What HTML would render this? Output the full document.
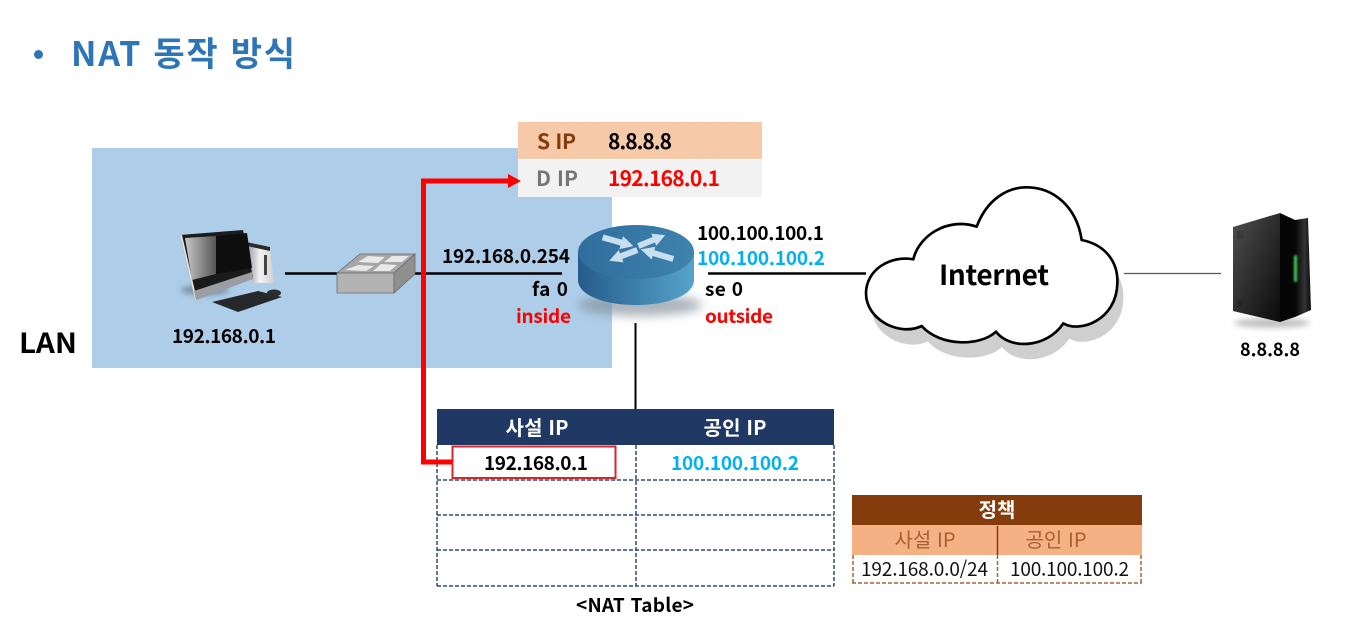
<!DOCTYPE html>
<html lang="ko">
<head>
<meta charset="utf-8">
<style>
html,body{margin:0;padding:0;background:#fff;width:1372px;height:627px;overflow:hidden}
svg{display:block}
text{font-family:"Liberation Sans","Noto Sans CJK KR",sans-serif}
.k{font-family:"Noto Sans CJK KR","Liberation Sans",sans-serif}
.b{font-weight:700}
</style>
</head>
<body>
<svg width="1372" height="627" viewBox="0 0 1372 627" xmlns="http://www.w3.org/2000/svg">
<defs>
<linearGradient id="rs" x1="0" x2="1" y1="0" y2="0"><stop offset="0" stop-color="#255c8c"/><stop offset="1" stop-color="#56a3cb"/></linearGradient>
<linearGradient id="rt" x1="0" x2="1" y1="0" y2="0"><stop offset="0" stop-color="#2f6d9d"/><stop offset="1" stop-color="#3f83ae"/></linearGradient>
<linearGradient id="scr" x1="0" x2="1" y1="0" y2="0"><stop offset="0" stop-color="#c8c8c8"/><stop offset="1" stop-color="#555"/></linearGradient>
<linearGradient id="srv" x1="0" x2="1" y1="0" y2="1"><stop offset="0" stop-color="#4f4f4f"/><stop offset="1" stop-color="#0a0a0a"/></linearGradient>
<linearGradient id="srp" x1="0" x2="1" y1="0" y2="0"><stop offset="0" stop-color="#050505"/><stop offset=".6" stop-color="#333"/><stop offset="1" stop-color="#0c0c0c"/></linearGradient>
<linearGradient id="tower" x1="0" x2="1" y1="0" y2="0"><stop offset="0" stop-color="#8d9299"/><stop offset=".5" stop-color="#f2f2f2"/><stop offset="1" stop-color="#d0d0d0"/></linearGradient>
<filter id="bl" x="-30%" y="-80%" width="160%" height="260%"><feGaussianBlur stdDeviation="5"/></filter>
<filter id="bs" x="-20%" y="-80%" width="140%" height="260%"><feGaussianBlur stdDeviation="3"/></filter>
<filter id="bg" x="-200%" y="-30%" width="500%" height="160%"><feGaussianBlur stdDeviation="1"/></filter>
</defs>

<!-- title -->
<circle cx="38.500" cy="54.500" r="4.500" fill="#2e75b6"/>
<text class="k b" x="71" y="66" font-size="34" fill="#2e75b6" textLength="224" lengthAdjust="spacing">NAT 동작 방식</text>

<!-- LAN area -->
<rect x="92" y="148" width="520" height="220" fill="#aecde9"/>
<text class="k b" x="19" y="353" font-size="28" fill="#000" textLength="58" lengthAdjust="spacingAndGlyphs">LAN</text>

<!-- packet header -->
<rect x="518" y="122" width="244" height="75" fill="#fff"/>
<rect x="518" y="122" width="244" height="37" fill="#f6c9a9"/>
<rect x="518" y="160" width="244" height="37" fill="#f2f2f2"/>
<text class="k b" x="537" y="149" font-size="21" fill="#843c0c" textLength="39" lengthAdjust="spacing">S IP</text>
<text class="k b" x="608" y="149" font-size="21" fill="#000" textLength="64" lengthAdjust="spacing">8.8.8.8</text>
<text class="k b" x="536" y="186" font-size="21" fill="#767676" textLength="42" lengthAdjust="spacing">D IP</text>
<text class="k b" x="608" y="186" font-size="21" fill="#ff0000" textLength="112" lengthAdjust="spacing">192.168.0.1</text>

<!-- lines -->
<g stroke="#000" stroke-width="2.500" fill="none">
<line x1="285" y1="273.500" x2="340" y2="273.500"/>
<line x1="412" y1="273.500" x2="562" y2="273.500"/>
<line x1="708" y1="273.500" x2="866" y2="273.500"/>
<line x1="635.500" y1="323" x2="635.500" y2="409" stroke-width="2"/>
</g>
<line x1="1124" y1="273.500" x2="1221" y2="273.500" stroke="#555" stroke-width="1.200"/>

<!-- PC -->
<g>
<ellipse cx="205" cy="290" rx="24" ry="5" fill="#5f7286" opacity=".7" filter="url(#bs)"/>
<polygon points="246,242 270,248 274,283 253,283" fill="url(#tower)"/>
<polygon points="246,242 270,247 270,251 247,246" fill="#2b2b2b"/>
<rect x="264" y="255" width="3" height="20" fill="#444"/>
<polygon points="180,235 243,230 253,277 195,300" fill="#1b1b1b"/>
<polygon points="180,235 182,235 197,300 195,300" fill="#e2e2e2"/>
<polygon points="194,291 252,272 253,279 196,300" fill="#9a9da1"/>
<polygon points="185,238 216,236 216,274 192,280" fill="url(#scr)"/>
<polygon points="216,236 247,233 252,268 216,274" fill="#0e0e0e"/>
<polygon points="212,302 258,291 282,297 238,312" fill="#26292c"/>
<ellipse cx="274" cy="293" rx="7" ry="3.500" fill="#2a2c2e"/>
</g>

<!-- switch -->
<polygon points="337,273 360,254 415,254 394,273" fill="#a6a6a6" stroke="#6b6b6b" stroke-width=".8"/>
<polygon points="337,273 394,273 394,293 337,293" fill="#b3b3b3" stroke="#6b6b6b" stroke-width=".8"/>
<polygon points="394,273 415,254 415,274 394,293" fill="#8f8f8f" stroke="#6b6b6b" stroke-width=".8"/>
<g fill="#e9e9e9">
<polygon points="345,270 358,265 374,266 366,271"/>
<polygon points="373,271 381,264 397,265 390,271"/>
<polygon points="358,262 368,256 385,257 378,263"/>
<polygon points="384,262 392,256 409,256 402,262"/>
</g>

<!-- router -->
<ellipse cx="640" cy="305" rx="62" ry="11" fill="#7e8c98" opacity=".65" filter="url(#bl)"/>
<path d="M578,252 V280 C578,295 604,305 636,305 C668,305 694,295 694,280 V252 Z" fill="url(#rs)"/>
<ellipse cx="636" cy="252" rx="58" ry="27" fill="url(#rt)"/>
<g transform="translate(510,110) scale(.33333)" fill="#c9dff0">
<polygon transform="translate(278,382) rotate(16)" points="0,-9 58,-9 58,-20 96,0 58,20 58,9 0,9"/>
<polygon transform="translate(385,408) rotate(-22)" points="0,-9 50,-9 50,-20 87,0 50,20 50,9 0,9"/>
<polygon transform="translate(382,420) rotate(159)" points="0,-9 52,-9 52,-20 90,0 52,20 52,9 0,9"/>
<polygon transform="translate(490,447) rotate(196.500)" points="0,-9 62,-9 62,-20 102,0 62,20 62,9 0,9"/>
</g>

<!-- interface labels -->
<text class="k b" x="442" y="263" font-size="19" fill="#000" textLength="128" lengthAdjust="spacing">192.168.0.254</text>
<text class="k b" x="532" y="296" font-size="19" fill="#000" textLength="36" lengthAdjust="spacing">fa 0</text>
<text class="k b" x="516" y="323" font-size="19" fill="#ff0000" textLength="55" lengthAdjust="spacing">inside</text>
<text class="k b" x="697" y="240" font-size="19" fill="#000" textLength="127" lengthAdjust="spacing">100.100.100.1</text>
<text class="k b" x="697" y="265" font-size="19" fill="#00b0f0" textLength="128" lengthAdjust="spacing">100.100.100.2</text>
<text class="k b" x="705" y="296" font-size="19" fill="#000" textLength="38" lengthAdjust="spacing">se 0</text>
<text class="k b" x="705" y="323" font-size="19" fill="#ff0000" textLength="68" lengthAdjust="spacing">outside</text>
<text class="k b" x="172" y="343" font-size="19" fill="#000" textLength="104" lengthAdjust="spacing">192.168.0.1</text>

<!-- cloud -->
<g transform="translate(850,180) scale(.33333)">
<path transform="translate(18,46)" d="M190,238 C205,170 290,110 380,140 C410,60 470,22 530,22 C610,22 680,80 695,180 C770,195 805,250 802,310 C800,420 690,460 640,430 C590,505 480,510 438,455 C390,500 270,500 215,438 C150,470 48,420 48,340 C48,270 120,225 190,238 Z" fill="#cfcfcf"/>
<path d="M190,238 C205,170 290,110 380,140 C410,60 470,22 530,22 C610,22 680,80 695,180 C770,195 805,250 802,310 C800,420 690,460 640,430 C590,505 480,510 438,455 C390,500 270,500 215,438 C150,470 48,420 48,340 C48,270 120,225 190,238 Z" fill="#fff" stroke="#000" stroke-width="8" stroke-linejoin="round"/>
</g>
<text class="k b" x="939" y="285" font-size="28" fill="#000" textLength="110" lengthAdjust="spacing">Internet</text>

<!-- server -->
<g>
<ellipse cx="1272" cy="323" rx="38" ry="5" fill="#999" opacity=".6" filter="url(#bs)"/>
<polygon points="1233,227 1280,213 1280,322 1233,311" fill="url(#srv)"/>
<polygon points="1280,213 1295,220 1295,317 1280,322" fill="#050505"/>
<polygon points="1295,220 1308,218 1311,310 1295,317" fill="url(#srp)"/>
<rect x="1237" y="231" width="7" height="8" fill="#3a3a3a"/>
<rect x="1237" y="300" width="6" height="7" fill="#262626"/>
<rect x="1294" y="255" width="3" height="27" rx="1.500" fill="#3fd45a" filter="url(#bg)"/>
</g>
<text class="k b" x="1240" y="356" font-size="18" fill="#000" textLength="60" lengthAdjust="spacing">8.8.8.8</text>

<!-- NAT table -->
<rect x="437" y="409" width="397" height="36" fill="#1f3864"/>
<g stroke="#2f4a75" stroke-width="1.500" stroke-dasharray="4 2" fill="none">
<line x1="437" y1="445" x2="437" y2="586"/>
<line x1="834" y1="445" x2="834" y2="586"/>
<line x1="636" y1="445" x2="636" y2="586"/>
<line x1="437" y1="480" x2="834" y2="480"/>
<line x1="437" y1="515" x2="834" y2="515"/>
<line x1="437" y1="550" x2="834" y2="550"/>
<line x1="437" y1="586" x2="834" y2="586"/>
</g>
<text class="k b" x="537" y="435" font-size="20" fill="#fff" text-anchor="middle" textLength="63" lengthAdjust="spacing">사설 IP</text>
<text class="k b" x="735" y="435" font-size="20" fill="#fff" text-anchor="middle" textLength="63" lengthAdjust="spacing">공인 IP</text>
<rect x="452.500" y="446.500" width="163" height="31.500" fill="#fff" stroke="#d9262c" stroke-width="2"/>
<text class="k b" x="484" y="470" font-size="19" fill="#000" textLength="104" lengthAdjust="spacing">192.168.0.1</text>
<text class="k b" x="671" y="470" font-size="19" fill="#00b0f0" textLength="128" lengthAdjust="spacing">100.100.100.2</text>
<text class="k b" x="576" y="612" font-size="19" fill="#000" textLength="118" lengthAdjust="spacing">&lt;NAT Table&gt;</text>

<!-- red arrow -->
<polyline points="452,462 423.500,462 423.500,181 510,181" fill="none" stroke="#ff0000" stroke-width="5"/>
<polygon points="508,174 521,181 508,188" fill="#ff0000"/>

<!-- policy table -->
<rect x="852" y="495" width="290" height="30" fill="#843c0c"/>
<rect x="852" y="525" width="290" height="30" fill="#f4b183"/>
<line x1="997.500" y1="526" x2="997.500" y2="555" stroke="#843c0c" stroke-width="1.500"/>
<g stroke="#a5643a" stroke-width="1.500" stroke-dasharray="4 2" fill="none">
<line x1="853" y1="555" x2="853" y2="583"/>
<line x1="1141" y1="555" x2="1141" y2="583"/>
<line x1="997.500" y1="555" x2="997.500" y2="583"/>
<line x1="852" y1="583" x2="1142" y2="583"/>
</g>
<text class="k b" x="997" y="517" font-size="20" fill="#fff" text-anchor="middle">정책</text>
<text class="k" x="925" y="547" font-size="20" fill="#a5622f" text-anchor="middle" textLength="61" lengthAdjust="spacing">사설 IP</text>
<text class="k" x="1056" y="547" font-size="20" fill="#a5622f" text-anchor="middle" textLength="61" lengthAdjust="spacing">공인 IP</text>
<text class="k" x="861" y="576" font-size="19" fill="#111" textLength="127" lengthAdjust="spacing">192.168.0.0/24</text>
<text class="k" x="1010" y="576" font-size="19" fill="#111" textLength="119" lengthAdjust="spacing">100.100.100.2</text>
</svg>
</body>
</html>
